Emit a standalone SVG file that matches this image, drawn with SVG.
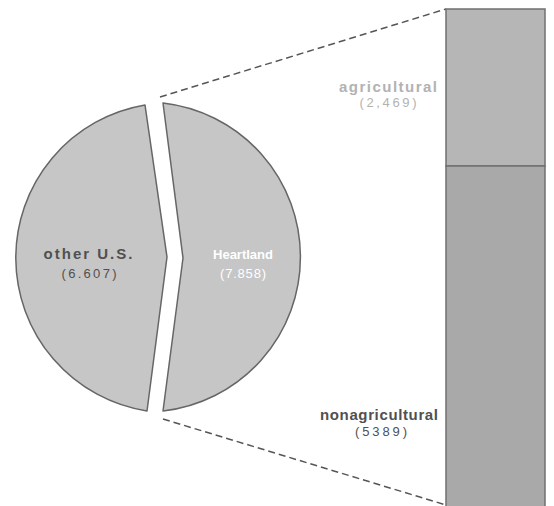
<svg xmlns="http://www.w3.org/2000/svg" width="554" height="506" viewBox="0 0 554 506">
<style>
.slice{fill:#c6c6c6;stroke:#666;stroke-width:1.5;stroke-linejoin:round}
.bar{stroke:#707070;stroke-width:1.5}
.dash{fill:none;stroke:#555;stroke-width:1.5;stroke-dasharray:7 4}
.lbl{font-family:"Liberation Sans",Arial,sans-serif;text-anchor:middle}
.b{font-weight:bold;font-size:15px}
.n{font-size:13px}
.dark{fill:#505050}
.light{fill:#b2b2b2}
.white{fill:#ffffff}
</style>
<rect width="554" height="506" fill="#ffffff"/>
<g id="connectors">
<path class="dash" d="M160 97 L446 9"/>
<path class="dash" d="M163 419 L446 505"/>
</g>
<g id="other-us">
<path class="slice" d="M145 105 A155 155 0 0 0 147 411 L167 257 Z"/>
<text class="lbl b dark" x="88" y="259" textLength="89" lengthAdjust="spacing">other U.S.</text>
<text class="lbl n dark" x="89" y="278" textLength="55" lengthAdjust="spacing">(6.607)</text>
</g>
<g id="heartland">
<path class="slice" d="M163 103 A155 155 0 0 1 163 411 L183 258 Z"/>
<text class="lbl white" x="243" y="259" style="font-weight:bold;font-size:13px">Heartland</text>
<text class="lbl n white" x="243" y="278" textLength="46" lengthAdjust="spacing">(7.858)</text>
</g>
<g id="agricultural">
<rect class="bar" x="446" y="9" width="99" height="157" fill="#b6b6b6"/>
<text class="lbl b light" x="388" y="92" textLength="98" lengthAdjust="spacing">agricultural</text>
<text class="lbl n light" x="388" y="107" textLength="57" lengthAdjust="spacing">(2,469)</text>
</g>
<g id="nonagricultural">
<rect class="bar" x="446" y="166" width="99" height="345" fill="#a9a9a9"/>
<text class="lbl b dark" x="379" y="420" textLength="118" lengthAdjust="spacing">nonagricultural</text>
<text class="lbl n dark" x="381" y="436" textLength="52" lengthAdjust="spacing">(5389)</text>
</g>
</svg>
